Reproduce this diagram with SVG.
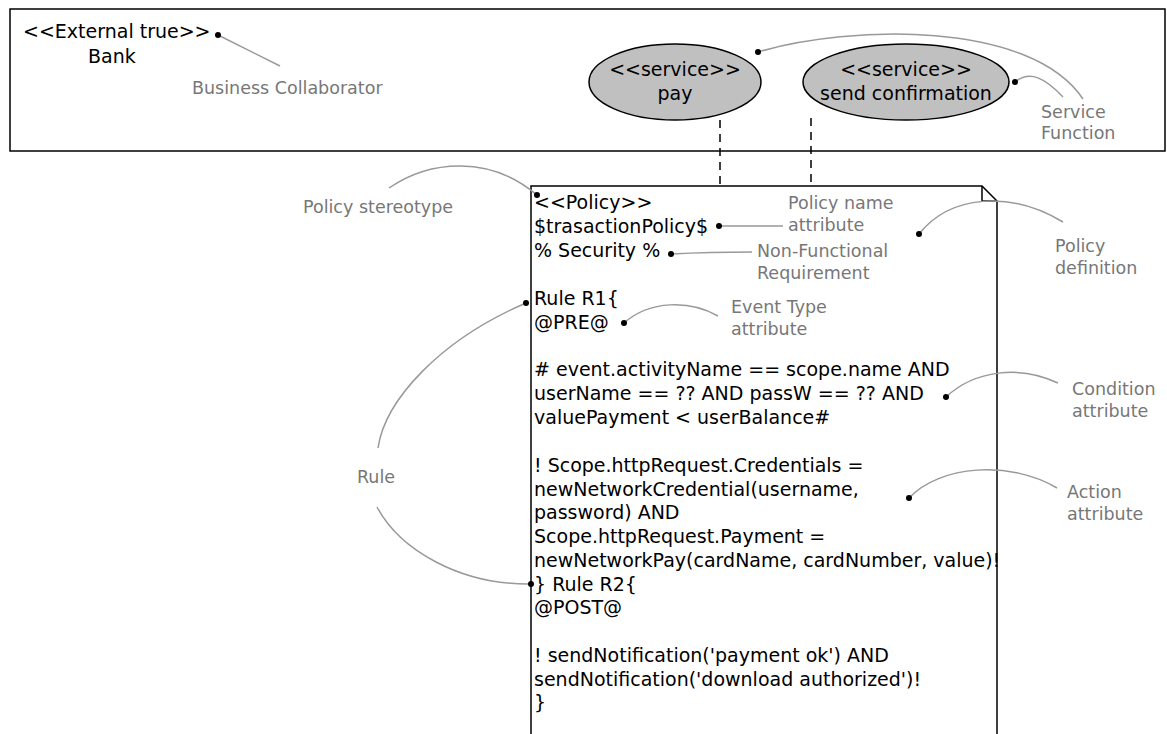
<svg xmlns="http://www.w3.org/2000/svg" width="1167" height="734" viewBox="0 0 1167 734">
<style>
.t{font-family:"DejaVu Sans",sans-serif;font-size:19px;fill:#000}
.g{font-family:"DejaVu Sans",sans-serif;font-size:17.5px;fill:#777}
.c{fill:none;stroke:#999;stroke-width:1.5}
.d{fill:#000}
.dash{stroke:#000;stroke-width:1.5;stroke-dasharray:8 6}
</style>
<rect width="1167" height="734" fill="#fff"/>
<g id="bank">
<rect x="10" y="9" width="1155" height="142" fill="#fff" stroke="#000" stroke-width="1.5"/>
<text class="t" x="23" y="38">&lt;&lt;External true&gt;&gt;</text>
<text class="t" x="88" y="63">Bank</text>
</g>
<g id="pay">
<ellipse cx="675" cy="82" rx="86" ry="38" fill="#c0c0c0" stroke="#000" stroke-width="1.5"/>
<text class="t" x="675" y="76" text-anchor="middle">&lt;&lt;service&gt;&gt;</text>
<text class="t" x="675" y="100" text-anchor="middle">pay</text>
</g>
<g id="sendConfirmation">
<ellipse cx="906" cy="82" rx="103" ry="38" fill="#c0c0c0" stroke="#000" stroke-width="1.5"/>
<text class="t" x="906" y="76" text-anchor="middle">&lt;&lt;service&gt;&gt;</text>
<text class="t" x="906" y="100" text-anchor="middle">send confirmation</text>
</g>
<g id="connectors">
<line class="dash" x1="720" y1="120" x2="720" y2="186"/>
<line class="dash" x1="811" y1="118" x2="811" y2="186"/>
</g>
<g id="policy">
<path d="M531,740 L531,186 L982,186 L997,201 L997,740" fill="#fff" stroke="#000" stroke-width="1.5"/>
<path d="M982,186 L982,201 L997,201" fill="none" stroke="#000" stroke-width="1.5"/>
<text class="t" x="534" y="209">&lt;&lt;Policy&gt;&gt;</text>
<text class="t" x="534" y="233">$trasactionPolicy$</text>
<text class="t" x="534" y="257">% Security %</text>
<text class="t" x="534" y="305">Rule R1{</text>
<text class="t" x="534" y="329">@PRE@</text>
<text class="t" x="534" y="376">#  event.activityName == scope.name AND</text>
<text class="t" x="534" y="400">userName == ?? AND passW == ?? AND</text>
<text class="t" x="534" y="424">valuePayment &lt; userBalance#</text>
<text class="t" x="534" y="472">! Scope.httpRequest.Credentials =</text>
<text class="t" x="534" y="496">newNetworkCredential(username,</text>
<text class="t" x="534" y="519">password) AND</text>
<text class="t" x="534" y="543">Scope.httpRequest.Payment =</text>
<text class="t" x="534" y="567">newNetworkPay(cardName, cardNumber, value)!</text>
<text class="t" x="534" y="591">} Rule R2{</text>
<text class="t" x="534" y="614">@POST@</text>
<text class="t" x="534" y="662">! sendNotification('payment ok') AND</text>
<text class="t" x="534" y="686">sendNotification('download authorized')!</text>
<text class="t" x="534" y="709">}</text>
</g>
<g id="annotations">
<path class="c" d="M218,35 L280,66"/>
<circle class="d" cx="218" cy="35" r="3"/>
<text class="g" x="192" y="94">Business Collaborator</text>
<path class="c" d="M758,52 C850,25 1030,20 1083,99"/>
<circle class="d" cx="758" cy="52" r="3"/>
<path class="c" d="M1015,82 C1030,70 1045,78 1063,97"/>
<circle class="d" cx="1015" cy="82" r="3"/>
<text class="g" x="1041" y="118">Service</text>
<text class="g" x="1041" y="139">Function</text>
<path class="c" d="M389,188 C430,160 490,155 537,195"/>
<circle class="d" cx="537" cy="195" r="3"/>
<text class="g" x="303" y="213">Policy stereotype</text>
<path class="c" d="M719,226 L783,226"/>
<circle class="d" cx="719" cy="226" r="3"/>
<text class="g" x="788" y="209">Policy name</text>
<text class="g" x="788" y="231">attribute</text>
<path class="c" d="M671,254 Q710,252 752,252"/>
<circle class="d" cx="671" cy="254" r="3"/>
<text class="g" x="757" y="257">Non-Functional</text>
<text class="g" x="757" y="279">Requirement</text>
<path class="c" d="M919,234 C950,195 1010,190 1063,222"/>
<circle class="d" cx="919" cy="234" r="3"/>
<text class="g" x="1055" y="252">Policy</text>
<text class="g" x="1055" y="274">definition</text>
<path class="c" d="M624,323 C650,300 690,300 718,316"/>
<circle class="d" cx="624" cy="323" r="3"/>
<text class="g" x="731" y="313">Event Type</text>
<text class="g" x="731" y="335">attribute</text>
<path class="c" d="M946,397 C975,370 1020,365 1058,383"/>
<circle class="d" cx="946" cy="397" r="3"/>
<text class="g" x="1072" y="395">Condition</text>
<text class="g" x="1072" y="417">attribute</text>
<path class="c" d="M909,498 C940,465 1010,460 1057,488"/>
<circle class="d" cx="909" cy="498" r="3"/>
<text class="g" x="1067" y="498">Action</text>
<text class="g" x="1067" y="520">attribute</text>
<path class="c" d="M526,303 C440,340 385,400 378,448"/>
<circle class="d" cx="526" cy="303" r="3"/>
<path class="c" d="M377,507 C400,550 460,585 531,584"/>
<circle class="d" cx="531" cy="584" r="3"/>
<text class="g" x="357" y="483">Rule</text>
</g>
</svg>
